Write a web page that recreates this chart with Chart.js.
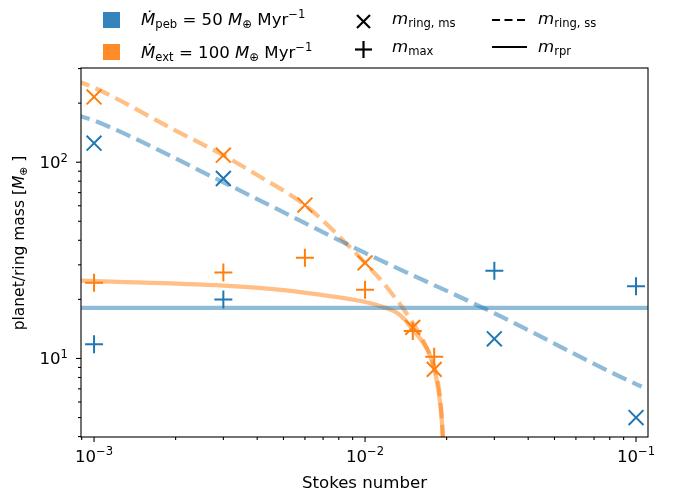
<!DOCTYPE html>
<html>
<head>
<meta charset="utf-8">
<script src="https://cdn.jsdelivr.net/npm/chart.js@4.4.1/dist/chart.umd.min.js"></script>
<style>
  body { margin: 0; background: #fff; }
  #wrap { position: relative; width: 680px; height: 494px; }
</style>
</head>
<body>
<div id="wrap"><canvas id="massChart" width="680" height="494"></canvas></div>
<script>
// Stokes numbers of the simulations
const stokesPeb = [0.001, 0.003, 0.03, 0.1];
const stokesExt = [0.001, 0.003, 0.006, 0.01, 0.015, 0.018];

// markers: ring mass (ms) and max planet mass
const ringMsPeb = [125, 82.6, 12.6, 5.0];
const maxPeb = [11.8, 20.0, 28.0, 23.3];
const ringMsExt = [215, 108.6, 60.5, 30.7, 14.4, 8.8];
const maxExt = [24.3, 27.4, 32.6, 22.4, 13.8, 10.2];

// lines: ring mass (ss) and m_rpr, sampled off the figure
const ssPebX = [0.00085, 0.001, 0.003, 0.01, 0.03, 0.1, 0.1049];
const ssPebY = [175, 163, 79, 34.5, 17, 7.4, 7.2];
const ssExtX = [0.00085, 0.001, 0.002, 0.003, 0.004, 0.006, 0.008, 0.01, 0.012, 0.015, 0.0165, 0.018, 0.0186, 0.0191, 0.0193, 0.0195];
const ssExtY = [262, 240, 145, 108.6, 86, 60.5, 42.1, 30.7, 23.2, 15.2, 12.1, 9.1, 7.5, 5.5, 4.3, 3.0];
const rprPebX = [0.0008, 0.12];
const rprPebY = [18.1, 18.1];
const rprExtX = [0.00085, 0.001, 0.003, 0.005, 0.0074, 0.00985, 0.0115, 0.0131, 0.014, 0.015, 0.016, 0.0174, 0.0183, 0.0189, 0.0192, 0.0194, 0.0196];
const rprExtY = [25.0, 24.8, 23.5, 22.3, 20.8, 19.5, 18.4, 17.1, 15.8, 14.0, 12.6, 10.3, 8.0, 6.0, 4.8, 3.9, 3.0];

// axes
const xMin = 0.000895, xMax = 0.1107;
const yMin = 3.98, yMax = 302;
const xMajor = [1e-3, 1e-2, 1e-1];
const xMajorExp = ['−3', '−2', '−1'];
const yMajor = [10, 100];
const yMajorExp = ['1', '2'];

const BLUE = '#1f77b4';
const ORANGE = '#ff7f0e';
const BLUE_A = 'rgba(31,119,180,0.5)';
const ORANGE_A = 'rgba(255,127,14,0.5)';
let FS = 16.6;

function pts(xs, ys) {
  return xs.map((x, i) => ({ x: x, y: ys[i] }));
}

function fontFor(kind) {
  const small = kind === 'sb' || kind === 'sp';
  const sz = small ? FS * 0.7 : FS;
  return (kind === 'i' ? 'italic ' : '') + sz.toFixed(1) + 'px "DejaVu Sans"';
}

// draw a run of text pieces: r = regular, i = italic, sb = subscript, sp = superscript
function drawMath(ctx, parts, x, y, align) {
  let w = 0;
  parts.forEach(([t, k]) => { ctx.font = fontFor(k); w += ctx.measureText(t).width; });
  let cx = align === 'center' ? x - w / 2 : align === 'right' ? x - w : x;
  ctx.textAlign = 'left';
  ctx.textBaseline = 'alphabetic';
  parts.forEach(([t, k]) => {
    ctx.font = fontFor(k);
    const dy = k === 'sb' ? FS * 0.2 : k === 'sp' ? -FS * 0.4 : 0;
    ctx.fillText(t, cx, y + dy);
    cx += ctx.measureText(t).width;
  });
}

function minorTicks(lo, hi) {
  const out = [];
  for (let e = Math.floor(Math.log10(lo)); e <= Math.ceil(Math.log10(hi)); e++) {
    for (let m = 2; m <= 9; m++) {
      const v = m * Math.pow(10, e);
      if (v >= lo && v <= hi) out.push(v);
    }
  }
  return out;
}

const axesPlugin = {
  id: 'axesPlugin',
  afterDraw(chart) {
    const ctx = chart.ctx;
    const a = chart.chartArea;
    const xs = chart.scales.x, ys = chart.scales.y;
    ctx.save();
    ctx.strokeStyle = '#000';
    ctx.fillStyle = '#000';
    ctx.lineWidth = 1.1;
    ctx.strokeRect(a.left, a.top, a.right - a.left, a.bottom - a.top);

    // ticks
    const tick = (x1, y1, x2, y2) => { ctx.beginPath(); ctx.moveTo(x1, y1); ctx.lineTo(x2, y2); ctx.stroke(); };
    xMajor.forEach(v => { const p = xs.getPixelForValue(v); tick(p, a.bottom, p, a.bottom + 5); });
    minorTicks(xMin, xMax).forEach(v => { const p = xs.getPixelForValue(v); tick(p, a.bottom, p, a.bottom + 3); });
    yMajor.forEach(v => { const p = ys.getPixelForValue(v); tick(a.left, p, a.left - 5, p); });
    minorTicks(yMin, yMax).forEach(v => { const p = ys.getPixelForValue(v); tick(a.left, p, a.left - 3, p); });

    // tick labels
    FS = 16.6;
    xMajor.forEach((v, i) => {
      drawMath(ctx, [['10', 'r'], [xMajorExp[i], 'sp']], xs.getPixelForValue(v), a.bottom + 25, 'center');
    });
    yMajor.forEach((v, i) => {
      drawMath(ctx, [['10', 'r'], [yMajorExp[i], 'sp']], a.left - 13, ys.getPixelForValue(v) + 6, 'right');
    });

    // axis titles
    drawMath(ctx, [['Stokes number', 'r']], (a.left + a.right) / 2, 488, 'center');
    FS = 15.5;
    ctx.save();
    ctx.translate(24, 243);
    ctx.rotate(-Math.PI / 2);
    drawMath(ctx, [['planet/ring mass [', 'r'], ['M', 'i'], ['⊕', 'sb'], [' ]', 'r']], 0, 0, 'center');
    ctx.restore();
    FS = 16.6;

    // legend
    ctx.fillStyle = 'rgba(31,119,180,0.9)';
    ctx.fillRect(103, 12, 17, 16);
    ctx.fillStyle = 'rgba(255,127,14,0.9)';
    ctx.fillRect(103, 44, 17, 16);
    ctx.fillStyle = '#000';
    drawMath(ctx, [['Ṁ', 'i'], ['peb', 'sb'], [' = 50 ', 'r'], ['M', 'i'], ['⊕', 'sb'], [' Myr', 'r'], ['−1', 'sp']], 141, 25, 'left');
    drawMath(ctx, [['Ṁ', 'i'], ['ext', 'sb'], [' = 100 ', 'r'], ['M', 'i'], ['⊕', 'sb'], [' Myr', 'r'], ['−1', 'sp']], 141, 58, 'left');

    ctx.lineWidth = 2.2;
    tick(357, 15, 370, 28); tick(357, 28, 370, 15);
    tick(355, 49.5, 372, 49.5); tick(363.5, 41, 363.5, 58);
    drawMath(ctx, [['m', 'i'], ['ring, ms', 'sb']], 392, 24, 'left');
    drawMath(ctx, [['m', 'i'], ['max', 'sb']], 392, 52, 'left');

    ctx.lineWidth = 2;
    ctx.setLineDash([8, 4.5]);
    tick(492, 20, 526, 20);
    ctx.setLineDash([]);
    tick(492, 47, 527, 47);
    drawMath(ctx, [['m', 'i'], ['ring, ss', 'sb']], 538, 24, 'left');
    drawMath(ctx, [['m', 'i'], ['rpr', 'sb']], 538, 52, 'left');
    ctx.restore();
  }
};

function lineSet(xs, ys, color, dashed) {
  return {
    data: pts(xs, ys),
    showLine: true,
    borderColor: color,
    borderWidth: 4.2,
    borderDash: dashed ? [15.4, 6.7] : [],
    pointRadius: 0,
    cubicInterpolationMode: 'monotone',
    clip: 0,
    order: 2
  };
}

function markerSet(xs, ys, color, style, r) {
  return {
    data: pts(xs, ys),
    showLine: false,
    pointStyle: style,
    pointRadius: r,
    pointBorderColor: color,
    pointBackgroundColor: color,
    pointBorderWidth: 2,
    order: 1
  };
}

new Chart(document.getElementById('massChart'), {
  type: 'scatter',
  data: {
    datasets: [
      lineSet(rprPebX, rprPebY, BLUE_A, false),
      lineSet(ssPebX, ssPebY, BLUE_A, true),
      lineSet(rprExtX, rprExtY, ORANGE_A, false),
      lineSet(ssExtX, ssExtY, ORANGE_A, true),
      markerSet(stokesPeb, ringMsPeb, BLUE, 'crossRot', 10.5),
      markerSet(stokesPeb, maxPeb, BLUE, 'cross', 9),
      markerSet(stokesExt, ringMsExt, ORANGE, 'crossRot', 10.5),
      markerSet(stokesExt, maxExt, ORANGE, 'cross', 9)
    ]
  },
  options: {
    responsive: false,
    animation: false,
    devicePixelRatio: 1,
    layout: { padding: { left: 81, right: 32, top: 68, bottom: 57 } },
    scales: {
      x: { type: 'logarithmic', min: xMin, max: xMax, display: false },
      y: { type: 'logarithmic', min: yMin, max: yMax, display: false }
    },
    plugins: {
      legend: { display: false },
      tooltip: { enabled: false }
    }
  },
  plugins: [axesPlugin]
});
</script>
</body>
</html>
